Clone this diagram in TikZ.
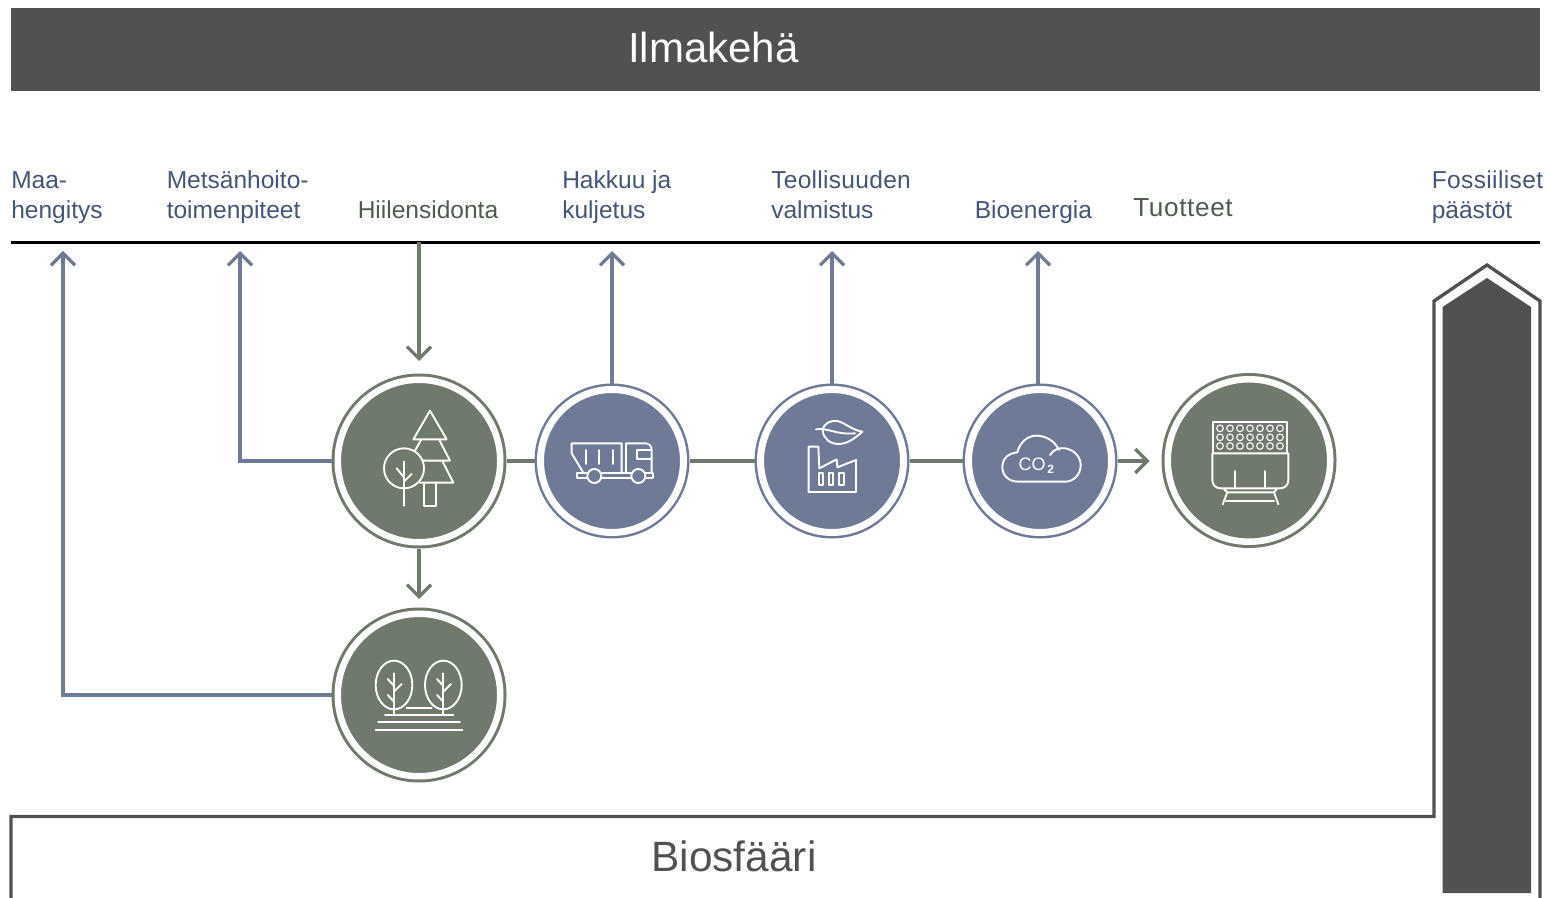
\documentclass[tikz,border=0pt]{standalone}
\usepackage{fontspec}
\setmainfont{Liberation Sans}
\usetikzlibrary{arrows.meta}
\definecolor{grn}{HTML}{6F7A6C}
\definecolor{blu}{HTML}{6F7B96}
\definecolor{drk}{HTML}{515151}
\definecolor{lblb}{HTML}{445577}
\definecolor{lblg}{HTML}{4F5B4F}
\tikzset{
  bigring/.style={circle,draw=grn,fill=grn,double=white,double distance=4.875pt,line width=2.25pt,minimum size=121.875pt,inner sep=0pt,outer sep=4.6875pt},
  smallring/.style={circle,draw=blu,fill=blu,double=white,double distance=5.25pt,line width=1.875pt,minimum size=107.25pt,inner sep=0pt,outer sep=4.5pt},
  lbl/.style={anchor=base west,inner sep=0pt,align=left,font=\fontsize{18.4pt}{22.5pt}\selectfont,text=lblb},
  conn/.style={line width=2.4pt},
  upconn/.style={conn,draw=blu,-{Straight Barb[length=9pt,width=18pt,line width=2.4pt]}},
  grnconn/.style={conn,draw=grn,-{Straight Barb[length=9pt,width=18pt,line width=2.4pt]}},
  icon/.style={draw=white,line width=1.4pt,line join=round,line cap=round},
}
\begin{document}
\begin{tikzpicture}[x=0.75pt,y=-0.75pt]
\useasboundingbox (0,0) rectangle (1548,898);
\clip (0,0) rectangle (1548,898);
% bands
\path[fill=drk] (11,8) rectangle (1540,91);
\node[text=white,font=\fontsize{31.5pt}{36pt}\selectfont,inner sep=0pt] (ilma) at (713.5,47.5) {Ilmakehä};
\draw[black,line width=2.25pt] (11,242.5) -- (1540,242.5);
% labels
\node[lbl] (l1) at (11,218.5) {Maa-\\hengitys};
\node[lbl] (l2) at (166.5,218.5) {Metsänhoito-\\toimenpiteet};
\node[lbl,text=lblg] (l3) at (357.5,218.5) {Hiilensidonta};
\node[lbl] (l4) at (562,218.5) {Hakkuu ja\\kuljetus};
\node[lbl] (l5) at (771,218.5) {{\addfontfeature{LetterSpace=1.2}Teollisuuden}\\valmistus};
\node[lbl] (l6) at (974.5,218.5) {Bioenergia};
\node[lbl,text=lblg,font=\fontsize{19.6pt}{24pt}\selectfont\addfontfeature{LetterSpace=2.5}] (l7) at (1133,217) {Tuotteet};
\node[lbl] (l8) at (1431.5,218.5) {{\addfontfeature{LetterSpace=1.5}Fossiiliset}\\päästöt};
% nodes
\node[bigring] (tree) at (419,461) {};
\node[smallring] (truck) at (612,461) {};
\node[smallring] (fact) at (832,461) {};
\node[smallring] (co) at (1040,461) {};
\node[bigring] (prod) at (1249,460.5) {};
\node[bigring] (wood) at (419,695) {};
% free ends
\coordinate (tA) at (63,251);
\coordinate (tB) at (240,251);
\coordinate (sH) at (419,242);
\coordinate (tH) at (419,361);
\coordinate (tW) at (419,599);
\coordinate (tT) at (612,251);
\coordinate (tF) at (832,251);
\coordinate (tC) at (1038,251);
\coordinate (tP) at (1149.5,461);
% connectors
\draw[upconn] (wood.west) -| (tA);
\draw[upconn] (tree.west) -| (tB);
\draw[grnconn] (sH) -- (tH);
\draw[grnconn] (tree.south) -- (tW);
\draw[upconn] (truck.north) -- (tT);
\draw[upconn] (fact.north) -- (tF);
\draw[upconn] (co.north -| tC) -- (tC);
\draw[conn,draw=grn] (tree.east) -- (truck.west);
\draw[conn,draw=grn] (truck.east) -- (fact.west);
\draw[conn,draw=grn] (fact.east) -- (co.west);
\draw[grnconn] (co.east) -- (tP);
% biosphere and fossil arrow
\draw[drk,line width=2.5pt,line join=miter] (11,900) -- (11,816.5) -- (1434,816.5) -- (1434,301) -- (1487,265) -- (1540,301) -- (1540,900);
\path[fill=drk] (1442.5,893) -- (1442.5,307) -- (1487,278) -- (1531,307) -- (1531,893) -- cycle;
\node[text=drk,font=\fontsize{31.8pt}{36pt}\selectfont,inner sep=0pt] (bio) at (734,856) {Biosfääri};
% tree icon
\begin{scope}[shift={(320,360)},x=0.25pt,y=-0.25pt,icon]
  \draw (330,152) -- (280,238) -- (380,238) -- cycle;
  \draw (303,240) -- (285,272);
  \draw (358,240) -- (390,302) -- (308,302);
  \draw (368,305) -- (400,368) -- (300,368);
  \draw (312,368) -- (312,437) -- (348,437) -- (348,368);
  \draw (252,325) circle (60);
  \draw (252,305) -- (252,437);
  \draw (230,325) -- (252,352);
  \draw (275,342) -- (252,365);
\end{scope}
% truck icon
\begin{scope}[shift={(320,360)},x=0.25pt,y=-0.25pt,icon]
  \draw (790,338) -- (755,280) -- (755,250) -- (905,250) -- (905,338);
  \draw (918,338) -- (918,250) -- (975,250) .. controls (988,250) and (995,258) .. (995,270) -- (995,338);
  \draw (995,270) -- (950,270) -- (950,298) -- (995,298);
  \draw (770,338) rectangle (1000,354);
  \draw[fill=blu] (823,348) circle (21);
  \draw[fill=blu] (955,348) circle (21);
  \foreach \x in {798,838,878} \draw (\x,270) -- (\x,312);
\end{scope}
% factory icon
\begin{scope}[shift={(740,370)},x=0.25pt,y=-0.25pt,icon]
  \draw (206,230) -- (235,230) -- (238,295) -- (290,268) -- (292,292) -- (348,270) -- (348,366) -- (206,366) -- cycle;
  \foreach \x in {236,266,297} \draw (\x,310) rectangle (\x+14,345);
  \draw (248,182) .. controls (250,160) and (272,150) .. (292,153) .. controls (315,158) and (335,180) .. (367,185) .. controls (345,205) and (322,222) .. (295,222) .. controls (270,222) and (250,205) .. (248,182);
  \draw (228,178) .. controls (265,172) and (285,195) .. (345,190);
\end{scope}
% cloud icon
\begin{scope}[shift={(740,370)},x=0.25pt,y=-0.25pt,icon]
  \draw (975,335) -- (835,335) .. controls (805,335) and (787,315) .. (787,292) .. controls (787,265) and (805,250) .. (832,247) .. controls (840,215) and (865,197) .. (888,197) .. controls (920,197) and (945,215) .. (957,240);
  \draw (930,255) .. controls (940,238) and (960,232) .. (975,235) .. controls (1005,240) and (1022,262) .. (1022,285) .. controls (1022,315) and (1000,335) .. (975,335);
  \node[text=white,font=\fontsize{13.5pt}{15pt}\selectfont,inner sep=0pt,anchor=base] (cotxt) at (876,302) {CO};
  \node[text=white,font=\fontsize{9pt}{10pt}\bfseries\selectfont,inner sep=0pt,anchor=base] (twotxt) at (932,311) {2};
\end{scope}
% product icon
\begin{scope}[shift={(1150,365)},x=0.25pt,y=-0.25pt,icon]
  \draw (190,265) -- (190,170) -- (412,170) -- (412,265);
  \foreach \y in {190,217,243} \foreach \x in {210,240,270,300,330,360,390} \draw[line width=0.8pt] (\x,\y) circle (10);
  \draw (187,265) -- (415,265) -- (415,345) .. controls (415,360) and (405,370) .. (390,370) -- (212,370) .. controls (197,370) and (187,360) .. (187,345) -- cycle;
  \draw (254,318) -- (254,368);
  \draw (344,318) -- (344,368);
  \draw (222,372) -- (232,382) -- (372,382) -- (380,372);
  \draw (232,382) -- (218,418);
  \draw (372,382) -- (385,418);
  \draw (228,408) -- (372,408);
\end{scope}
% wood icon
\begin{scope}[shift={(320,600)},x=0.25pt,y=-0.25pt,icon]
  \foreach \d in {0,148} {
    \draw (222+\d,255) ellipse [x radius=55,y radius=73];
    \draw (222+\d,220) -- (222+\d,345);
    \draw (203+\d,237) -- (222+\d,258);
    \draw (245+\d,252) -- (222+\d,275);
    \draw (203+\d,285) -- (222+\d,305);
  }
  \draw (260,325) -- (335,325);
  \draw (195,345) -- (400,345);
  \draw (175,367) -- (420,367);
  \draw (167,389) -- (427,389);
\end{scope}
\end{tikzpicture}
\end{document}
